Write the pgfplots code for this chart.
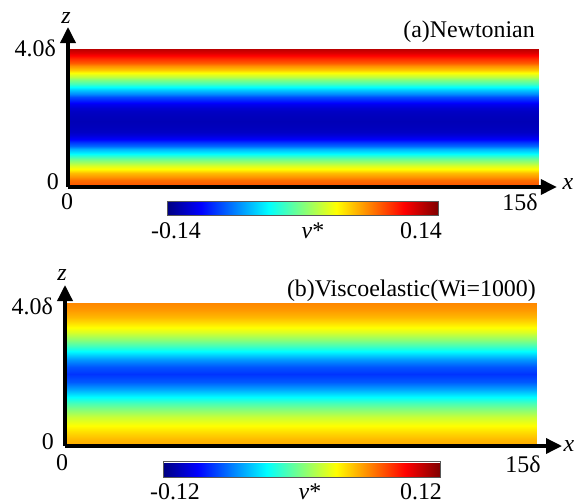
\documentclass[border=0pt]{standalone}
\usepackage{pgfplots}
\pgfplotsset{compat=1.18}
\usepackage{pgfplotstable}
\usepackage{fontspec}
\setmainfont{Liberation Serif}
\usetikzlibrary{arrows.meta}

% Panel (a): Newtonian, v* profile across z (uniform along x)
\pgfplotstableread{
x z v
0 0.0 0.084
15 0.0 0.084
0 0.1 0.080
15 0.1 0.080
0 0.2 0.074
15 0.2 0.074
0 0.3 0.064
15 0.3 0.064
0 0.4 0.053
15 0.4 0.053
0 0.5 0.039
15 0.5 0.039
0 0.6 0.025
15 0.6 0.025
0 0.7 0.011
15 0.7 0.011
0 0.8 -0.006
15 0.8 -0.006
0 0.9 -0.022
15 0.9 -0.022
0 1.0 -0.039
15 1.0 -0.039
0 1.1 -0.056
15 1.1 -0.056
0 1.2 -0.076
15 1.2 -0.076
0 1.3 -0.092
15 1.3 -0.092
0 1.4 -0.106
15 1.4 -0.106
0 1.5 -0.116
15 1.5 -0.116
0 1.6 -0.121
15 1.6 -0.121
0 1.7 -0.123
15 1.7 -0.123
0 1.8 -0.124
15 1.8 -0.124
0 1.9 -0.125
15 1.9 -0.125
0 2.0 -0.124
15 2.0 -0.124
0 2.1 -0.123
15 2.1 -0.123
0 2.2 -0.121
15 2.2 -0.121
0 2.3 -0.117
15 2.3 -0.117
0 2.4 -0.109
15 2.4 -0.109
0 2.5 -0.098
15 2.5 -0.098
0 2.6 -0.084
15 2.6 -0.084
0 2.7 -0.067
15 2.7 -0.067
0 2.8 -0.050
15 2.8 -0.050
0 2.9 -0.034
15 2.9 -0.034
0 3.0 -0.017
15 3.0 -0.017
0 3.1 0.000
15 3.1 0.000
0 3.2 0.017
15 3.2 0.017
0 3.3 0.034
15 3.3 0.034
0 3.4 0.050
15 3.4 0.050
0 3.5 0.065
15 3.5 0.065
0 3.6 0.080
15 3.6 0.080
0 3.7 0.092
15 3.7 0.092
0 3.8 0.103
15 3.8 0.103
0 3.9 0.114
15 3.9 0.114
0 4.0 0.124
15 4.0 0.124
}\tabA

% Panel (b): Viscoelastic (Wi=1000)
\pgfplotstableread{
x z v
0 0.0 0.050
15 0.0 0.050
0 0.2 0.046
15 0.2 0.046
0 0.4 0.038
15 0.4 0.038
0 0.6 0.029
15 0.6 0.029
0 0.8 0.017
15 0.8 0.017
0 1.0 0.002
15 1.0 0.002
0 1.2 -0.014
15 1.2 -0.014
0 1.4 -0.033
15 1.4 -0.033
0 1.6 -0.052
15 1.6 -0.052
0 1.8 -0.069
15 1.8 -0.069
0 2.0 -0.078
15 2.0 -0.078
0 2.2 -0.070
15 2.2 -0.070
0 2.4 -0.055
15 2.4 -0.055
0 2.6 -0.035
15 2.6 -0.035
0 2.8 -0.014
15 2.8 -0.014
0 3.0 0.005
15 3.0 0.005
0 3.2 0.022
15 3.2 0.022
0 3.4 0.036
15 3.4 0.036
0 3.6 0.047
15 3.6 0.047
0 3.8 0.054
15 3.8 0.054
0 4.0 0.058
15 4.0 0.058
}\tabB

\pgfplotsset{
  panel/.style={
    scale only axis,
    axis x line=bottom, axis y line=left,
    axis on top,
    xmin=0, ymin=0,
    xtick=\empty, ytick=\empty,
    colormap/jet,
    every outer x axis line/.append style={line width=3.5bp, -{Triangle[width=15bp,length=16bp]}},
    every outer y axis line/.append style={line width=3.5bp, -{Triangle[width=15bp,length=16bp]}},
    colorbar horizontal,
  },
}

\begin{document}
\begin{tikzpicture}[every node/.style={font=\fontsize{24}{28}\selectfont, inner sep=0pt}]
\useasboundingbox (0,0) rectangle (576bp,-504bp);

% ---------- panel (a)
\begin{axis}[panel,
  at={(68bp,-187bp)}, anchor=south west,
  width=488.8bp, height=160bp,
  xmax=15.6, ymax=4.64,
  point meta min=-0.14, point meta max=0.14,
  colorbar style={
    at={(parent axis.south west)}, anchor=north west,
    xshift=99bp, yshift=-6bp,
    scale only axis, width=271bp, height=14bp,
    xtick=\empty, ytick=\empty,
    axis line style={draw=gray!70!black, line width=0.6bp},
  },
]
\addplot[surf, shader=interp, mesh/cols=2, point meta=explicit]
  table[x=x, y=z, meta=v] \tabA;
\end{axis}

\node at (66bp,-18bp) {\textit{z}};
\node[anchor=east] at (56bp,-48bp) {4.0δ};
\node[anchor=east] at (59bp,-182bp) {0};
\node at (67bp,-202bp) {0};
\node at (520bp,-202bp) {15δ};
\node at (568bp,-184bp) {\textit{x}};
\node[anchor=east] at (535bp,-32bp) {(a)Newtonian};
\node at (176bp,-231bp) {-0.14};
\node at (313bp,-231bp) {\textit{v}*};
\node at (421bp,-231bp) {0.14};

% ---------- panel (b)
\begin{axis}[panel,
  at={(65bp,-446bp)}, anchor=south west,
  width=497bp, height=161bp,
  xmax=15.8, ymax=4.5,
  point meta min=-0.12, point meta max=0.12,
  colorbar style={
    at={(parent axis.south west)}, anchor=north west,
    xshift=98bp, yshift=-7bp,
    scale only axis, width=277bp, height=16bp,
    xtick=\empty, ytick=\empty,
    axis line style={draw=gray!70!black, line width=0.6bp},
  },
]
\addplot[surf, shader=interp, mesh/cols=2, point meta=explicit]
  table[x=x, y=z, meta=v] \tabB;
\end{axis}

\node at (62bp,-275bp) {\textit{z}};
\node[anchor=east] at (53bp,-306bp) {4.0δ};
\node[anchor=east] at (54bp,-442bp) {0};
\node at (62bp,-463bp) {0};
\node at (523bp,-464bp) {15δ};
\node at (569bp,-446bp) {\textit{x}};
\node[anchor=east] at (536bp,-291bp) {(b)Viscoelastic(Wi=1000)};
\node at (175bp,-492bp) {-0.12};
\node at (310bp,-492bp) {\textit{v}*};
\node at (421bp,-492bp) {0.12};
\end{tikzpicture}
\end{document}
